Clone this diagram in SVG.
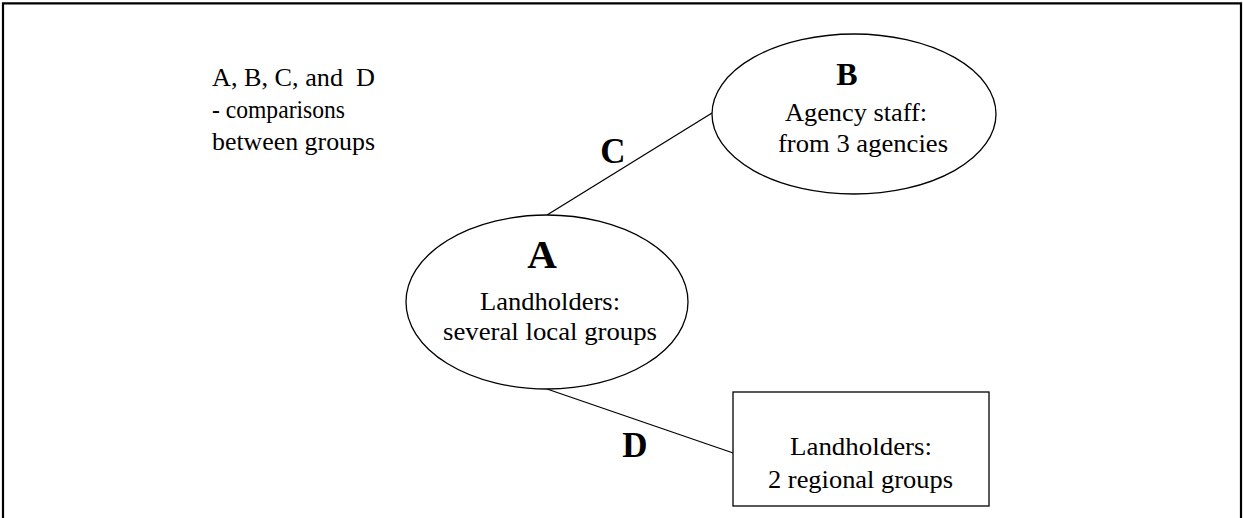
<svg xmlns="http://www.w3.org/2000/svg" width="1243" height="518" viewBox="0 0 1243 518">
<style>
.t{font-family:'Liberation Serif','Times New Roman',Times,serif;font-size:26px;fill:#000}
.b{font-family:'Liberation Serif','Times New Roman',Times,serif;font-weight:bold;fill:#000;text-anchor:middle}
.s{fill:#fff;stroke:#000;stroke-width:1.3}
.c{stroke:#000;stroke-width:1.3;fill:none}
</style>
<rect x="0" y="0" width="1243" height="518" fill="#fff"/>
<path d="M3,518 V3.3 H1241 V518" fill="none" stroke="#000" stroke-width="2.2"/>
<g id="legend">
<text class="t" x="212" y="86" textLength="163" lengthAdjust="spacingAndGlyphs" xml:space="preserve">A, B, C, and  D</text>
<text class="t" x="212" y="118" textLength="133" lengthAdjust="spacingAndGlyphs">- comparisons</text>
<text class="t" x="212" y="150" textLength="163" lengthAdjust="spacingAndGlyphs">between groups</text>
</g>
<g id="connectors">
<line class="c" x1="547" y1="215" x2="712" y2="113"/>
<line class="c" x1="547" y1="389" x2="739" y2="455"/>
<text class="b" x="613" y="163" font-size="35">C</text>
<text class="b" x="635" y="457" font-size="35">D</text>
</g>
<g id="nodeA">
<ellipse class="s" cx="547" cy="302" rx="141" ry="87"/>
<text class="b" x="542" y="268" font-size="41">A</text>
<text class="t" x="480" y="310" textLength="140" lengthAdjust="spacingAndGlyphs">Landholders:</text>
<text class="t" x="443" y="340" textLength="214" lengthAdjust="spacingAndGlyphs">several local groups</text>
</g>
<g id="nodeB">
<ellipse class="s" cx="854" cy="114" rx="142" ry="80"/>
<text class="b" x="847" y="85" font-size="32">B</text>
<text class="t" x="785" y="121" textLength="142" lengthAdjust="spacingAndGlyphs">Agency staff:</text>
<text class="t" x="778" y="152" textLength="170" lengthAdjust="spacingAndGlyphs">from 3 agencies</text>
</g>
<g id="nodeD">
<rect class="s" x="733" y="392" width="256" height="114"/>
<text class="t" x="790" y="455" textLength="142" lengthAdjust="spacingAndGlyphs">Landholders:</text>
<text class="t" x="768" y="488" textLength="185" lengthAdjust="spacingAndGlyphs">2 regional groups</text>
</g>
</svg>
